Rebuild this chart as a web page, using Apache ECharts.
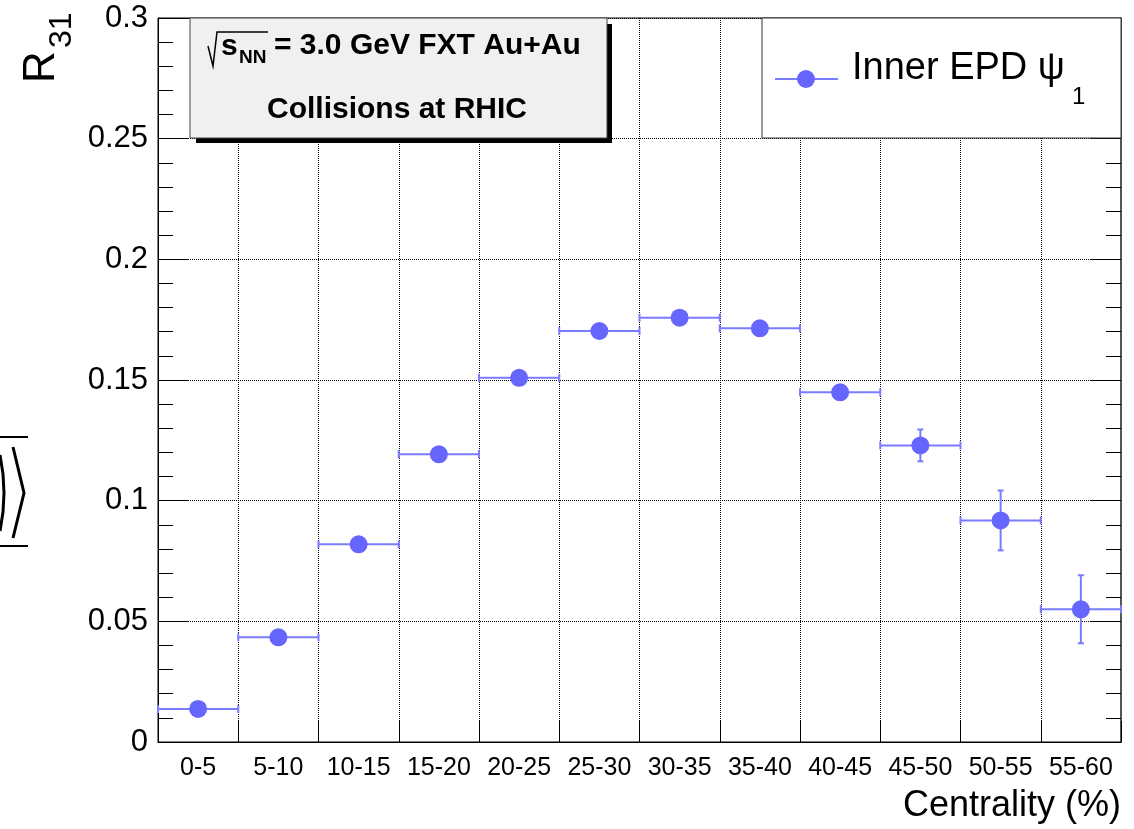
<!DOCTYPE html>
<html lang="en">

<head>
    <meta charset="UTF-8">
    <title>R31 vs Centrality</title>
    <script src="https://cdn.jsdelivr.net/npm/echarts@6.0.0/dist/echarts.min.js"></script>
    <style>
        html, body {
            margin: 0;
            padding: 0;
            background: #fff;
        }

        #chart {
            width: 1134px;
            height: 829px;
        }
    </style>
</head>

<body>
    <div id="chart"></div>

    <script type="text/javascript">
        var categories = ['0-5', '5-10', '10-15', '15-20', '20-25', '25-30',
            '30-35', '35-40', '40-45', '45-50', '50-55', '55-60'];
        var r31 = [0.0137, 0.0434, 0.0819, 0.1192, 0.1509, 0.1703,
            0.1758, 0.1714, 0.1449, 0.1229, 0.0918, 0.0550];
        var r31Err = [0.0015, 0.0015, 0.0015, 0.0015, 0.0015, 0.0015,
            0.0015, 0.0015, 0.002, 0.0066, 0.0124, 0.0141];

        var seriesName = 'Inner EPD ψ';
        var markerColor = '#6666ff';
        var errColor = '#7b7bff';

        var myChart = echarts.init(document.getElementById('chart'), null, { renderer: 'canvas' });

        // error bars: full bin width horizontally, stat. error vertically
        function renderErr(params, api) {
            var i = api.value(0);
            var v = api.value(1);
            var e = api.value(2);
            var c = api.coord([i, v]);
            var hi = api.coord([i, v + e]);
            var lo = api.coord([i, v - e]);
            var half = api.size([1, 0])[0] / 2;
            var st = { stroke: errColor, lineWidth: 2 };
            var cap = 4;
            return {
                type: 'group',
                children: [
                    { type: 'line', shape: { x1: c[0] - half, y1: c[1], x2: c[0] + half, y2: c[1] }, style: st },
                    { type: 'line', shape: { x1: c[0] - half, y1: c[1] - cap, x2: c[0] - half, y2: c[1] + cap }, style: st },
                    { type: 'line', shape: { x1: c[0] + half, y1: c[1] - cap, x2: c[0] + half, y2: c[1] + cap }, style: st },
                    { type: 'line', shape: { x1: c[0], y1: hi[1], x2: c[0], y2: lo[1] }, style: st },
                    { type: 'line', shape: { x1: c[0] - 3, y1: hi[1], x2: c[0] + 3, y2: hi[1] }, style: st },
                    { type: 'line', shape: { x1: c[0] - 3, y1: lo[1], x2: c[0] + 3, y2: lo[1] }, style: st }
                ]
            };
        }

        var errData = r31.map(function (v, i) { return [i, v, r31Err[i]]; });

        var yFmt = function (v) { return String(+v.toFixed(2)); };

        var boldFont = 'bold 30px "Liberation Sans", Arial, sans-serif';

        var option = {
            animation: false,
            backgroundColor: '#fff',
            textStyle: { fontFamily: "'Liberation Sans', Arial, sans-serif", color: '#000' },
            grid: {
                left: 158, right: 13, top: 18, bottom: 87,
                show: true, borderColor: '#000', borderWidth: 1
            },
            xAxis: {
                type: 'category',
                data: categories,
                boundaryGap: true,
                name: 'Centrality (%)',
                nameLocation: 'end',
                nameGap: 0,
                nameTextStyle: {
                    fontSize: 36, color: '#000', align: 'right', verticalAlign: 'top',
                    padding: [46, 0, 0, 0]
                },
                axisLine: { lineStyle: { color: '#000', width: 1 } },
                axisTick: { show: true, inside: true, length: 21, interval: 0, lineStyle: { color: '#000' } },
                axisLabel: { interval: 0, margin: 14, fontSize: 25, color: '#000' },
                splitLine: { show: true, interval: 0, lineStyle: { color: '#000', type: 'dotted', width: 1 } }
            },
            yAxis: [
                {
                    type: 'value', min: 0, max: 0.3, interval: 0.05,
                    axisLine: { show: true, lineStyle: { color: '#000', width: 1 } },
                    axisTick: { show: true, inside: true, length: 30, lineStyle: { color: '#000' } },
                    minorTick: { show: true, splitNumber: 5, length: 15, lineStyle: { color: '#000' } },
                    axisLabel: { fontSize: 31, color: '#000', margin: 10, formatter: yFmt },
                    splitLine: { show: true, lineStyle: { color: '#000', type: 'dotted', width: 1 } }
                },
                {
                    type: 'value', min: 0, max: 0.3, interval: 0.05, position: 'right',
                    axisLine: { show: true, lineStyle: { color: '#555', width: 2 } },
                    axisTick: { show: true, inside: true, length: 30, lineStyle: { color: '#000' } },
                    minorTick: { show: true, splitNumber: 5, length: 15, lineStyle: { color: '#000' } },
                    axisLabel: { show: false },
                    splitLine: { show: false }
                }
            ],
            series: [
                {
                    type: 'custom',
                    name: seriesName + ' err',
                    renderItem: renderErr,
                    data: errData,
                    encode: { x: 0, y: 1 },
                    z: 2,
                    silent: true
                },
                {
                    type: 'scatter',
                    name: seriesName,
                    data: r31,
                    symbol: 'circle',
                    symbolSize: 18,
                    itemStyle: { color: markerColor, opacity: 1 },
                    z: 3
                }
            ],
            graphic: [
                // text box with shadow
                { type: 'rect', shape: { x: 196, y: 24, width: 416, height: 119 }, style: { fill: '#000' }, z: 10 },
                { type: 'rect', shape: { x: 190, y: 18, width: 417, height: 120 }, style: { fill: '#f0f0f0', stroke: '#444', lineWidth: 1 }, z: 11 },
                { type: 'polyline', shape: { points: [[208, 46], [213, 66], [217, 32], [268, 32]] }, style: { stroke: '#000', lineWidth: 1.5, fill: null }, z: 12 },
                { type: 'text', x: 221, y: 47, style: { text: 's', font: boldFont, fill: '#000', textVerticalAlign: 'middle' }, z: 12 },
                { type: 'text', x: 239, y: 58, style: { text: 'NN', font: 'bold 19px "Liberation Sans", Arial, sans-serif', fill: '#000', textVerticalAlign: 'middle' }, z: 12 },
                { type: 'text', x: 274, y: 46, style: { text: '= 3.0 GeV FXT Au+Au', font: boldFont, fill: '#000', textVerticalAlign: 'middle' }, z: 12 },
                { type: 'text', x: 397, y: 110, style: { text: 'Collisions at RHIC', font: boldFont, fill: '#000', textAlign: 'center', textVerticalAlign: 'middle' }, z: 12 },

                // legend
                { type: 'rect', shape: { x: 762, y: 18, width: 359, height: 120 }, style: { fill: '#fff', stroke: '#333', lineWidth: 1 }, z: 10 },
                { type: 'line', shape: { x1: 775, y1: 79, x2: 838, y2: 79 }, style: { stroke: errColor, lineWidth: 2 }, z: 11 },
                { type: 'circle', shape: { cx: 806, cy: 79, r: 9 }, style: { fill: markerColor }, z: 12 },
                { type: 'text', x: 852, y: 69, style: { text: seriesName, font: '38px "Liberation Sans", Arial, sans-serif', fill: '#000', textVerticalAlign: 'middle' }, z: 12 },
                { type: 'text', x: 1072, y: 97, style: { text: '1', font: '24px "Liberation Sans", Arial, sans-serif', fill: '#000', textVerticalAlign: 'middle' }, z: 12 },

                // y axis title R_31 (rotated)
                { type: 'text', x: 42, y: 83, rotation: Math.PI / 2, style: { text: 'R', font: '44px "Liberation Sans", Arial, sans-serif', fill: '#000', textAlign: 'left', textVerticalAlign: 'middle' } },
                { type: 'text', x: 62, y: 48, rotation: Math.PI / 2, style: { text: '31', font: '32px "Liberation Sans", Arial, sans-serif', fill: '#000', textAlign: 'left', textVerticalAlign: 'middle' } },

                // cut-off fragment of the long title at the left edge
                { type: 'line', shape: { x1: 0, y1: 437, x2: 28, y2: 437 }, style: { stroke: '#000', lineWidth: 2 } },
                { type: 'line', shape: { x1: 0, y1: 546, x2: 28, y2: 546 }, style: { stroke: '#000', lineWidth: 2 } },
                { type: 'polyline', shape: { points: [[13, 447], [24, 493], [13, 538]] }, style: { stroke: '#000', lineWidth: 3, fill: null } },
                { type: 'polyline', shape: { points: [[0, 455], [3, 474], [4, 493], [3, 512], [0, 531]] }, style: { stroke: '#000', lineWidth: 3, fill: null } }
            ]
        };

        myChart.setOption(option);
    </script>

</body>

</html>
